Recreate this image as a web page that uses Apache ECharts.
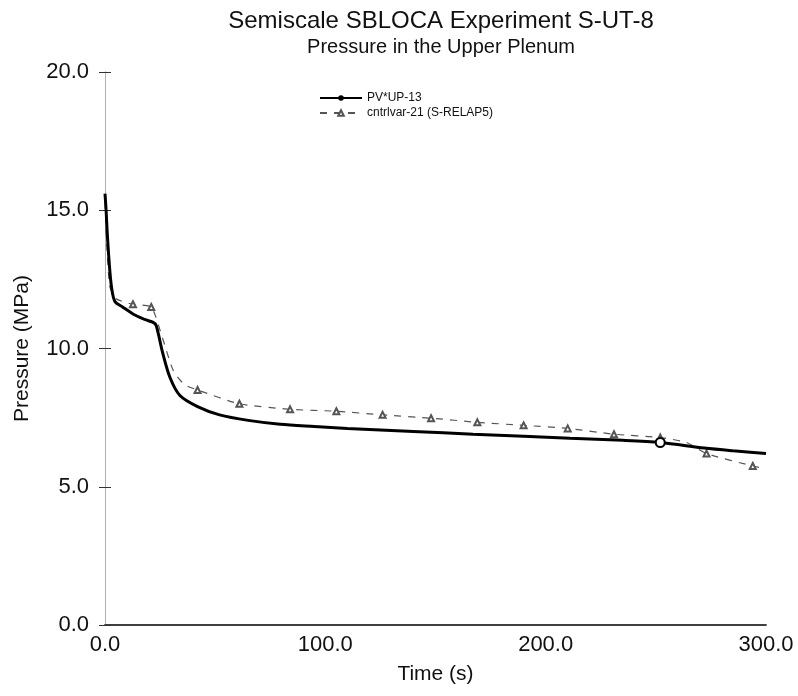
<!DOCTYPE html>
<html>
<head>
<meta charset="utf-8">
<script src="https://cdn.jsdelivr.net/npm/echarts@6/dist/echarts.min.js"></script>
<style>
  html, body { margin: 0; padding: 0; background: #fff; }
  #chart { width: 798px; height: 696px; }
</style>
</head>
<body>
<div id="chart"></div>
<script>
// Measured upper plenum pressure (MPa) vs time (s)
const measTime = [0, 0.5, 1, 2, 3, 4.5, 8, 12.7, 18, 22.7, 24, 26, 29.5, 34, 42, 52, 65, 79.5, 95, 110, 140, 167, 190, 211, 235, 252, 272, 285, 300];
const measPress = [15.6, 15.0, 14.2, 13.0, 12.2, 11.7, 11.5, 11.25, 11.05, 10.9, 10.6, 9.9, 8.95, 8.3, 7.9, 7.6, 7.4, 7.26, 7.18, 7.11, 7.0, 6.9, 6.83, 6.75, 6.68, 6.6, 6.4, 6.3, 6.2];
// Points of the measured curve that carry a marker
const measMarked = [252];

// S-RELAP5 calculation (cntrlvar-21)
const calcTime = [0, 2, 5, 12.7, 21, 26, 31, 36, 42, 61, 84, 105, 126, 148, 169, 190, 210, 231, 252, 264, 273, 294, 300];
const calcPress = [15.3, 12.3, 11.8, 11.6, 11.5, 10.4, 9.2, 8.7, 8.5, 8.0, 7.8, 7.73, 7.6, 7.48, 7.33, 7.22, 7.11, 6.9, 6.78, 6.6, 6.2, 5.75, 5.65];
// Points of the calculated curve without a triangle marker
const calcUnmarked = [0, 2, 5, 26, 31, 36, 264, 300];

const xTicks = [0, 100, 200, 300];
const yTicks = [0, 5, 10, 15, 20];

const measData = measTime.map((t, i) => measMarked.includes(t)
  ? { value: [t, measPress[i]], symbol: 'emptyCircle', symbolSize: 9 }
  : { value: [t, measPress[i]], symbol: 'none' });
const calcData = calcTime.map((t, i) => calcUnmarked.includes(t)
  ? { value: [t, calcPress[i]], symbol: 'none' }
  : { value: [t, calcPress[i]] });

const font = 'Liberation Sans, Arial, Helvetica, sans-serif';
const chart = echarts.init(document.getElementById('chart'));

const xLabel = {
  fontFamily: font, fontSize: 22, color: '#111', margin: 9,
  formatter: v => xTicks.includes(v) ? v.toFixed(1) : ''
};
const yLabel = {
  fontFamily: font, fontSize: 22, color: '#111', margin: 16,
  formatter: v => yTicks.includes(v) ? v.toFixed(1) : ''
};

chart.setOption({
  backgroundColor: '#fff',
  animation: false,
  title: [
    { text: 'Semiscale SBLOCA Experiment S-UT-8', left: 436, top: 4, textAlign: 'center',
      textStyle: { fontFamily: font, fontSize: 24, fontWeight: 'normal', color: '#111' } },
    { text: 'Pressure in the Upper Plenum', left: 436, top: 32, textAlign: 'center',
      textStyle: { fontFamily: font, fontSize: 20, fontWeight: 'normal', color: '#111' } }
  ],
  legend: {
    orient: 'vertical', left: 314, top: 87, itemGap: 3, itemWidth: 42, itemHeight: 7,
    textStyle: { fontFamily: font, fontSize: 12, color: '#111' },
    data: ['PV*UP-13', 'cntrlvar-21 (S-RELAP5)']
  },
  grid: { left: 105, right: 32, top: 72, bottom: 71, outerBoundsMode: 'none', containLabel: false },
  xAxis: [
    { type: 'value', min: 0, max: 300, interval: 100, position: 'bottom',
      name: 'Time (s)', nameLocation: 'middle', nameGap: 39,
      nameTextStyle: { fontFamily: font, fontSize: 21, color: '#111' },
      axisLine: { show: true, lineStyle: { color: '#333', width: 1.5 } },
      axisTick: { show: false }, splitLine: { show: false }, axisLabel: xLabel },
    { type: 'value', min: 0, max: 300, interval: 100, position: 'top',
      axisLine: { show: true, lineStyle: { color: '#333', width: 1.5 } },
      axisTick: { show: false }, splitLine: { show: false }, axisLabel: { show: false } }
  ],
  yAxis: [
    { type: 'value', min: 0, max: 20, interval: 5, position: 'left',
      name: 'Pressure (MPa)', nameLocation: 'middle', nameGap: 72,
      nameTextStyle: { fontFamily: font, fontSize: 21, color: '#111' },
      axisLine: { show: true, lineStyle: { color: '#aaa', width: 1, type: 'dotted' } },
      axisTick: { show: true, inside: true, length: 6, lineStyle: { color: '#333' } },
      splitLine: { show: false }, axisLabel: yLabel },
    { type: 'value', min: 0, max: 20, interval: 5, position: 'right',
      axisLine: { show: true, lineStyle: { color: '#aaa', width: 1, type: 'dotted' } },
      axisTick: { show: true, inside: true, length: 6, lineStyle: { color: '#333' } },
      splitLine: { show: false }, axisLabel: { show: false } }
  ],
  series: [
    { name: 'PV*UP-13', type: 'line', smooth: 0.3, data: measData,
      symbol: 'none', itemStyle: { color: '#000', borderWidth: 1.5 },
      lineStyle: { color: '#000', width: 3 }, z: 3 },
    { name: 'cntrlvar-21 (S-RELAP5)', type: 'line', smooth: 0.2, data: calcData,
      symbol: 'emptyTriangle', symbolSize: 6,
      itemStyle: { color: '#555', borderWidth: 1 },
      lineStyle: { color: '#555', width: 1.2, type: [7, 7] }, z: 2 }
  ]
});
</script>
</body>
</html>
